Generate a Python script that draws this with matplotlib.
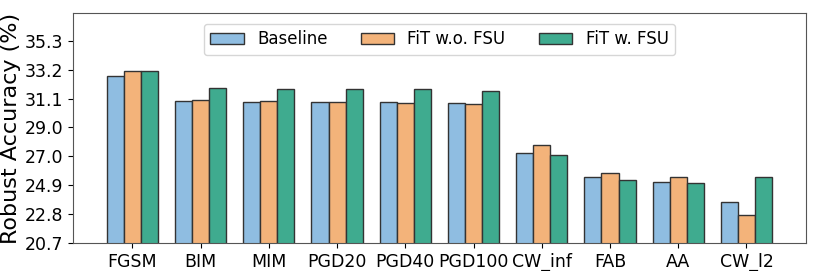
import numpy as np
import matplotlib
matplotlib.use('Agg')
import matplotlib.pyplot as plt

attacks = ['FGSM', 'BIM', 'MIM', 'PGD20', 'PGD40', 'PGD100', 'CW_inf', 'FAB', 'AA', 'CW_l2']
baseline = [32.74, 30.94, 30.89, 30.87, 30.87, 30.84, 27.18, 25.45, 25.11, 23.64]
fit_wo_fsu = [33.10, 31.05, 30.94, 30.87, 30.79, 30.74, 27.76, 25.74, 25.45, 22.72]
fit_w_fsu = [33.15, 31.92, 31.83, 31.78, 31.78, 31.70, 27.04, 25.25, 25.01, 25.49]
labels = ['Baseline', 'FiT w.o. FSU', 'FiT w. FSU']
colors = ['#8fbde1', '#f3b37a', '#3fab8f']

fig = plt.figure(figsize=(8.14, 2.71), dpi=100)
ax = fig.add_axes([0.0897, 0.1033, 0.9003, 0.8487])

x = np.arange(len(attacks))
w = 0.25
for i, (vals, lab, c) in enumerate(zip([baseline, fit_wo_fsu, fit_w_fsu], labels, colors)):
    ax.bar(x + (i - 1) * w, vals, width=w, color=c, edgecolor='#333333',
           linewidth=1.0, label=lab)

yt = np.linspace(20.7, 35.3, 8)
ax.set_yticks(yt)
ax.set_yticklabels(['%.1f' % v for v in yt])
ax.set_ylim(20.7, 37.3)
ax.set_xlim(-0.87, 9.87)
ax.set_xticks(x)
ax.set_xticklabels(attacks)
ax.tick_params(labelsize=12.5)
ax.set_ylabel('Robust Accuracy (%)', fontsize=16, labelpad=3)

for s in ax.spines.values():
    s.set_color('#555555')

ax.legend(loc='upper center', ncol=3, fontsize=12, bbox_to_anchor=(0.5, 0.99),
          handlelength=2.0, columnspacing=2.0)

fig.savefig('out.png', dpi=100)
